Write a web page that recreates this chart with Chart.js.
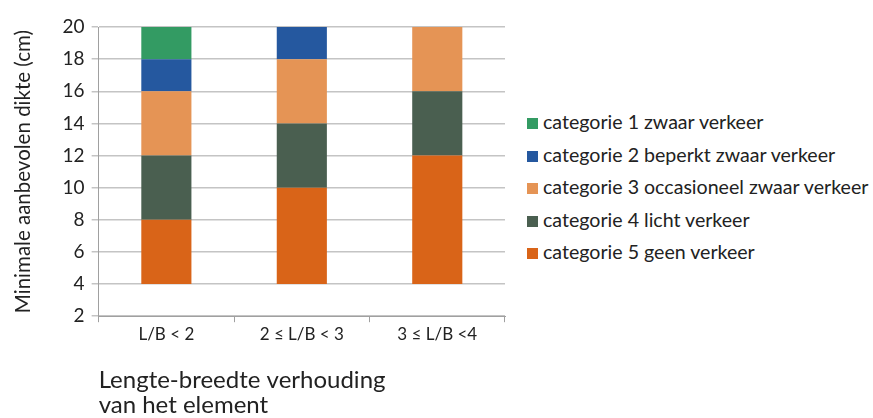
<!DOCTYPE html>
<html>
<head>
<meta charset="utf-8">
<script src="https://cdn.jsdelivr.net/npm/chart.js@4"></script>
<style>
  html, body { margin: 0; padding: 0; background: #fff; }
  #wrap { position: relative; width: 873px; height: 418px; }
  #plot { position: absolute; left: 0; top: 0; width: 515px; height: 418px; }
  #legend { position: absolute; left: 527px; top: 108px; font-family: Lato, sans-serif; font-size: 19.6px; color: #222; }
  #legend div { height: 32.5px; line-height: 28px; white-space: nowrap; }
  #legend span { display: inline-block; width: 11px; height: 11px; margin-right: 5px; vertical-align: 0px; }
</style>
</head>
<body>
<div id="wrap">
  <div id="plot"><canvas id="chart"></canvas></div>
  <div id="legend"></div>
</div>
<script>
// categories and values (segment thickness in cm, stacked from a base of 4 cm)
const categories = ['L/B < 2', '2 \u2264 L/B < 3', '3 \u2264 L/B <4'];
const base = [4, 4, 4];
const cat5 = [4, 6, 8];
const cat4 = [4, 4, 4];
const cat3 = [4, 4, 4];
const cat2 = [2, 2, 0];
const cat1 = [2, 0, 0];
const seriesNames = [
    'categorie 1 zwaar verkeer',
    'categorie 2 beperkt zwaar verkeer',
    'categorie 3 occasioneel zwaar verkeer',
    'categorie 4 licht verkeer',
    'categorie 5 geen verkeer'
];
const colors = ['#339b63', '#25589f', '#e59455', '#4a5f50', '#d96418'];

const font = 'Lato';
const textColor = '#222';

const ctx = document.getElementById('chart');
const chart = new Chart(ctx, {
    type: 'bar',
    data: {
        labels: categories,
        datasets: [
            { label: 'base', data: base, backgroundColor: 'rgba(0,0,0,0)' },
            { label: seriesNames[4], data: cat5, backgroundColor: colors[4] },
            { label: seriesNames[3], data: cat4, backgroundColor: colors[3] },
            { label: seriesNames[2], data: cat3, backgroundColor: colors[2] },
            { label: seriesNames[1], data: cat2, backgroundColor: colors[1] },
            { label: seriesNames[0], data: cat1, backgroundColor: colors[0] }
        ]
    },
    options: {
        responsive: true,
        maintainAspectRatio: false,
        animation: false,
        barPercentage: 0.37,
        categoryPercentage: 1.0,
        layout: { padding: { top: 27, left: 0, right: 10, bottom: 0 } },
        plugins: {
            tooltip: { enabled: false },
            legend: { display: false }
        },
        scales: {
            x: {
                stacked: true,
                grid: { offset: true, drawOnChartArea: false, color: '#a0a0a0', tickLength: 6 },
                border: { color: '#a0a0a0' },
                ticks: { color: textColor, font: { family: font, size: 17 }, padding: 2 },
                title: {
                    display: true,
                    align: 'start',
                    text: ['Lengte-breedte verhouding', 'van het element'],
                    color: textColor,
                    font: { family: font, size: 24, lineHeight: 1.05 },
                    padding: { top: 21, bottom: 0 }
                }
            },
            y: {
                stacked: true,
                min: 2,
                max: 20,
                ticks: { stepSize: 2, color: textColor, font: { family: font, size: 19 }, padding: 7 },
                grid: { color: '#c4c4c4', lineWidth: 1.5, tickLength: 7 },
                border: { color: '#a0a0a0' },
                title: {
                    display: true,
                    text: 'Minimale aanbevolen dikte (cm)',
                    color: textColor,
                    font: { family: font, size: 20.5 },
                    padding: { top: 11, bottom: 20 }
                }
            }
        }
    }
});

// legend built from the same series, top to bottom: categorie 1..5
const legend = document.getElementById('legend');
chart.data.datasets.slice(1).reverse().forEach(ds => {
    const row = document.createElement('div');
    const box = document.createElement('span');
    box.style.background = ds.backgroundColor;
    row.appendChild(box);
    row.appendChild(document.createTextNode(ds.label));
    legend.appendChild(row);
});
</script>
</body>
</html>
